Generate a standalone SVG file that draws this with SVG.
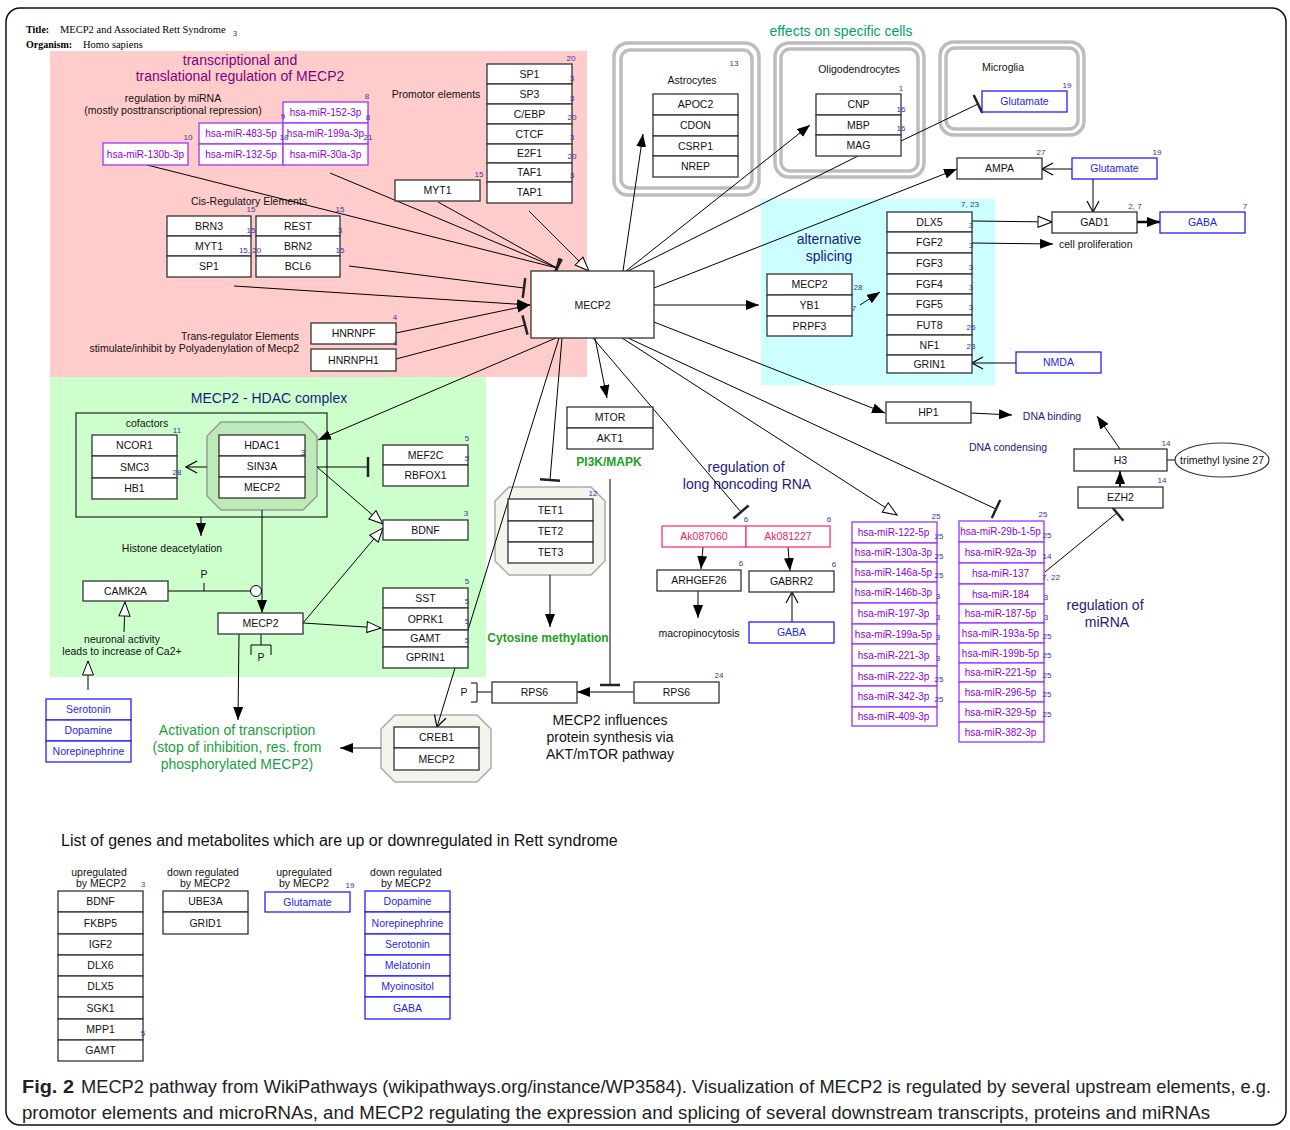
<svg xmlns="http://www.w3.org/2000/svg" width="1290" height="1130" viewBox="0 0 1290 1130">
<style>
text{font-family:"Liberation Sans",Arial,sans-serif}
.b{fill:#fff;stroke:#333;stroke-width:1.3}
.bb{fill:#fff;stroke:#1f1fff;stroke-width:1.3}
.pb{fill:#fff;stroke:#9a33ff;stroke-width:1.3}
.kb{fill:#fff;stroke:#ff3377;stroke-width:1.3}
.t{font-size:10.5px;text-anchor:middle;fill:#111}
.tb{font-size:10.5px;text-anchor:middle;fill:#1f1fee}
.tp{font-size:10px;text-anchor:middle;fill:#8f00dd}
.tk{font-size:10.5px;text-anchor:middle;fill:#ee2266}
.n{font-size:8px;text-anchor:middle;fill:#3333aa}
.h{font-size:14px;text-anchor:middle}
.nv{fill:#1a1a80}
.gr{fill:#19a040}
.s{font-size:10.5px;text-anchor:middle;fill:#111}
.c line,.c path,.c polyline{stroke:#000;stroke-width:1;fill:none}
.grp{fill:none;stroke:#bdbdbd;stroke-width:3.5}
</style>
<defs>
<marker id="arr" viewBox="0 0 13 10" refX="13" refY="5" markerWidth="13" markerHeight="10" markerUnits="userSpaceOnUse" orient="auto"><path d="M0,0 L13,5 L0,10 z" fill="#000"/></marker>
<marker id="tri" viewBox="-1 -1 16 13" refX="14" refY="5.5" markerWidth="16" markerHeight="13" markerUnits="userSpaceOnUse" orient="auto"><path d="M0,0 L14,5.5 L0,11 z" fill="#fff" stroke="#000" stroke-width="1"/></marker>
<marker id="bar" viewBox="-2 -11 4 22" refX="0" refY="0" markerWidth="4" markerHeight="22" markerUnits="userSpaceOnUse" orient="auto"><line x1="0" y1="-10" x2="0" y2="10" stroke="#222" stroke-width="2.5"/></marker>
<marker id="v" viewBox="-1 -1 13 14" refX="11" refY="6" markerWidth="13" markerHeight="14" markerUnits="userSpaceOnUse" orient="auto"><path d="M0,0 L11,6 L0,12" fill="none" stroke="#000" stroke-width="1.2"/></marker>
</defs>
<rect width="1290" height="1130" fill="#fff"/>
<rect x="6" y="8" width="1280" height="1117" rx="14" fill="none" stroke="#111" stroke-width="1.5"/>

<g id="title">
<text x="26" y="33" font-size="10" font-weight="bold" style="font-family:'Liberation Serif',serif">Title:</text>
<text x="60" y="33" font-size="10.5" style="font-family:'Liberation Serif',serif">MECP2 and Associated Rett Syndrome</text>
<text x="235" y="36" class="n">3</text>
<text x="26" y="48" font-size="10" font-weight="bold" style="font-family:'Liberation Serif',serif">Organism:</text>
<text x="83" y="48" font-size="10.5" style="font-family:'Liberation Serif',serif">Homo sapiens</text>
</g>

<g id="regions">
<rect x="50" y="51" width="537" height="326" fill="#ffcccc"/>
<rect x="50" y="377" width="436" height="300" fill="#ccffcc"/>
<rect x="761" y="199" width="234" height="186" fill="#ccffff"/>
<rect x="614" y="43" width="145" height="152" rx="14" class="grp"/>
<rect x="621" y="50" width="131" height="138" rx="9" class="grp"/>
<rect x="775" y="43" width="149" height="134" rx="14" class="grp"/>
<rect x="781" y="49" width="137" height="122" rx="9" class="grp"/>
<rect x="940" y="42" width="144" height="93" rx="14" class="grp"/>
<rect x="946" y="48" width="132" height="81" rx="9" class="grp"/>
<polygon points="221,422 303,422 317,436 317,496 303,510 221,510 207,496 207,436" fill="#bdebb8" stroke="#9a9a9a" stroke-width="1.5"/>
<polygon points="509,487 591,487 605,501 605,561 591,575 509,575 495,561 495,501" fill="#f4f4ec" stroke="#aaa" stroke-width="1.5"/>
<polygon points="395,715 477,715 491,729 491,768 477,782 395,782 381,768 381,729" fill="#f4f4ec" stroke="#aaa" stroke-width="1.5"/>
<rect x="76" y="413" width="251" height="104" fill="none" stroke="#333" stroke-width="1.3"/>
</g>

<g id="labels">
<text x="240" y="65" class="h" fill="#800080">transcriptional and</text>
<text x="240" y="81" class="h" fill="#800080">translational regulation of MECP2</text>
<text x="173" y="102" class="s">regulation by miRNA</text>
<text x="173" y="114" class="s">(mostly posttranscriptional repression)</text>
<text x="436" y="98" class="s">Promotor elements</text>
<text x="249" y="205" class="s">Cis-Regulatory Elements</text>
<text x="299" y="340" class="s" style="text-anchor:end">Trans-regulator Elements</text>
<text x="299" y="352" class="s" style="text-anchor:end">stimulate/inhibit by Polyadenylation of Mecp2</text>
<text x="841" y="36" class="h" fill="#00a070">effects on specific cells</text>
<text x="692" y="84" class="s">Astrocytes</text>
<text x="859" y="73" class="s">Oligodendrocytes</text>
<text x="1003" y="71" class="s">Microglia</text>
<text x="829" y="244" class="h nv">alternative</text>
<text x="829" y="261" class="h nv">splicing</text>
<text x="1059" y="248" class="s" style="text-anchor:start">cell proliferation</text>
<text x="269" y="403" class="h nv">MECP2 - HDAC complex</text>
<text x="147" y="427" class="s">cofactors</text>
<text x="172" y="552" class="s">Histone deacetylation</text>
<text x="122" y="643" class="s">neuronal activity</text>
<text x="122" y="655" class="s">leads to increase of Ca2+</text>
<text x="204" y="578" class="s">P</text>
<text x="261" y="661" class="s">P</text>
<text x="464" y="696" class="s">P</text>
<text x="237" y="735" class="h gr">Activation of transcription</text>
<text x="237" y="752" class="h gr">(stop of inhibition, res. from</text>
<text x="237" y="769" class="h gr">phosphorylated MECP2)</text>
<text x="609" y="466" font-size="12" font-weight="bold" text-anchor="middle" fill="#22a022">PI3K/MAPK</text>
<text x="548" y="642" font-size="12" font-weight="bold" text-anchor="middle" fill="#22a022">Cytosine methylation</text>
<text x="610" y="725" class="h" fill="#111">MECP2 influences</text>
<text x="610" y="742" class="h" fill="#111">protein synthesis via</text>
<text x="610" y="759" class="h" fill="#111">AKT/mTOR pathway</text>
<text x="746" y="472" class="h nv">regulation of</text>
<text x="747" y="489" class="h nv">long noncoding RNA</text>
<text x="699" y="637" class="s">macropinocytosis</text>
<text x="1052" y="420" font-size="10.5" text-anchor="middle" fill="#1a1a80">DNA binding</text>
<text x="1008" y="451" font-size="10.5" text-anchor="middle" fill="#1a1a80">DNA condensing</text>
<text x="1105" y="610" class="h nv">regulation of</text>
<text x="1107" y="627" class="h nv">miRNA</text>
<text x="61" y="846" font-size="16" fill="#111">List of genes and metabolites which are up or downregulated in Rett syndrome</text>
<text x="99" y="876" class="s">upregulated</text>
<text x="101" y="887" class="s">by MECP2</text>
<text x="203" y="876" class="s">down regulated</text>
<text x="205" y="887" class="s">by MECP2</text>
<text x="304" y="876" class="s">upregulated</text>
<text x="304" y="887" class="s">by MECP2</text>
<text x="406" y="876" class="s">down regulated</text>
<text x="406" y="887" class="s">by MECP2</text>
</g>

<g id="connectors" class="c">
<line x1="147" y1="165" x2="557" y2="268" marker-end="url(#bar)"/>
<line x1="330" y1="173" x2="557" y2="268" marker-end="url(#bar)"/>
<line x1="438" y1="202" x2="557" y2="268" marker-end="url(#bar)"/>
<line x1="529" y1="211" x2="589" y2="271" marker-end="url(#tri)"/>
<line x1="349" y1="266" x2="524" y2="288" marker-end="url(#bar)"/>
<line x1="234" y1="286" x2="530" y2="305" marker-end="url(#arr)"/>
<line x1="396" y1="333" x2="530" y2="305" marker-end="url(#arr)"/>
<line x1="396" y1="359" x2="525" y2="325" marker-end="url(#bar)"/>
<line x1="623" y1="271" x2="643" y2="134" marker-end="url(#arr)"/>
<line x1="626" y1="271" x2="810" y2="125" marker-end="url(#arr)"/>
<line x1="628" y1="271" x2="858" y2="156"/>
<line x1="901" y1="141" x2="978" y2="104" marker-end="url(#bar)"/>
<line x1="654" y1="288" x2="957" y2="169" marker-end="url(#arr)"/>
<line x1="654" y1="305" x2="759" y2="305" marker-end="url(#arr)"/>
<line x1="654" y1="322" x2="885" y2="413" marker-end="url(#arr)"/>
<line x1="628" y1="338" x2="996" y2="509" marker-end="url(#bar)"/>
<line x1="622" y1="338" x2="897" y2="515" marker-end="url(#tri)"/>
<line x1="593" y1="338" x2="741" y2="512" marker-end="url(#bar)"/>
<line x1="595" y1="338" x2="607" y2="398" marker-end="url(#arr)"/>
<line x1="562" y1="338" x2="550" y2="480" marker-end="url(#bar)"/>
<line x1="559" y1="338" x2="468" y2="630"/>
<line x1="556" y1="338" x2="318" y2="440" marker-end="url(#arr)"/>
<line x1="207" y1="467" x2="186" y2="467" marker-end="url(#v)"/>
<line x1="201" y1="517" x2="201" y2="536" marker-end="url(#arr)"/>
<line x1="317" y1="467" x2="368" y2="467" marker-end="url(#bar)"/>
<line x1="317" y1="467" x2="383" y2="524" marker-end="url(#tri)"/>
<line x1="303" y1="623" x2="383" y2="528" marker-end="url(#tri)"/>
<line x1="168" y1="591" x2="251" y2="591"/>
<line x1="204" y1="583" x2="204" y2="591"/>
<circle cx="256" cy="591" r="5.5" fill="#fff" stroke="#000" stroke-width="1"/>
<line x1="262" y1="510" x2="262" y2="613" marker-end="url(#arr)"/>
<line x1="261" y1="634" x2="261" y2="645"/>
<path d="M251,655 L251,645 L271,645 L271,655"/>
<line x1="303" y1="623" x2="381" y2="628" marker-end="url(#tri)"/>
<line x1="124" y1="632" x2="125" y2="602" marker-end="url(#tri)"/>
<line x1="88" y1="690" x2="88" y2="661" marker-end="url(#tri)"/>
<line x1="239" y1="634" x2="238" y2="720" marker-end="url(#arr)"/>
<line x1="381" y1="748" x2="340" y2="748" marker-end="url(#arr)"/>
<line x1="455" y1="668" x2="437" y2="727" marker-end="url(#v)"/>
<line x1="610" y1="479" x2="610" y2="685" marker-end="url(#bar)"/>
<line x1="634" y1="692" x2="577" y2="692" marker-end="url(#arr)"/>
<line x1="477" y1="692" x2="492" y2="692"/>
<path d="M471,683 L477,683 L477,702 L471,702"/>
<line x1="550" y1="575" x2="550" y2="627" marker-end="url(#arr)"/>
<line x1="703" y1="547" x2="701" y2="569" marker-end="url(#arr)"/>
<line x1="698" y1="591" x2="698" y2="618" marker-end="url(#arr)"/>
<line x1="788" y1="547" x2="790" y2="571" marker-end="url(#arr)"/>
<line x1="792" y1="622" x2="792" y2="592" marker-end="url(#v)"/>
<line x1="860" y1="305" x2="880" y2="292" marker-end="url(#arr)"/>
<line x1="972" y1="221" x2="1052" y2="222" marker-end="url(#tri)"/>
<line x1="972" y1="243" x2="1053" y2="244" marker-end="url(#arr)"/>
<line x1="1072" y1="169" x2="1042" y2="169" marker-end="url(#v)"/>
<line x1="1093" y1="179" x2="1093" y2="212" marker-end="url(#v)"/>
<line x1="1137" y1="222" x2="1160" y2="222" style="stroke-width:2.5" marker-end="url(#arr)"/>
<line x1="1016" y1="363" x2="972" y2="363" marker-end="url(#v)"/>
<line x1="971" y1="413" x2="1012" y2="415" marker-end="url(#arr)"/>
<line x1="1120" y1="449" x2="1097" y2="416" marker-end="url(#arr)"/>
<line x1="1120" y1="487" x2="1120" y2="471" style="stroke-width:2" marker-end="url(#arr)"/>
<line x1="1045" y1="572" x2="1117" y2="513" marker-end="url(#bar)"/>
<line x1="1167" y1="460" x2="1176" y2="460"/>
</g>

<g id="mecp2"><rect x="531" y="271" width="123" height="67" class="b"/><text x="592.5" y="308.5" class="t">MECP2</text></g>

<g id="promoters">
<rect x="487" y="64" width="85" height="20" class="b"/><text x="529.5" y="77.7" class="t">SP1</text>
<rect x="487" y="84" width="85" height="20" class="b"/><text x="529.5" y="97.7" class="t">SP3</text>
<rect x="487" y="104" width="85" height="20" class="b"/><text x="529.5" y="117.7" class="t">C/EBP</text>
<rect x="487" y="124" width="85" height="20" class="b"/><text x="529.5" y="137.7" class="t">CTCF</text>
<rect x="487" y="144" width="85" height="19" class="b"/><text x="529.5" y="157.2" class="t">E2F1</text>
<rect x="487" y="163" width="85" height="19" class="b"/><text x="529.5" y="176.2" class="t">TAF1</text>
<rect x="487" y="182" width="85" height="21" class="b"/><text x="529.5" y="196.2" class="t">TAP1</text>
<text x="571" y="61" class="n">20</text><text x="572" y="81" class="n">3</text><text x="572" y="101" class="n">3</text><text x="572" y="120" class="n">20</text><text x="572" y="140" class="n">3</text><text x="572" y="159" class="n">20</text><text x="572" y="178" class="n">3</text>
</g>
<g id="myt1"><rect x="395" y="180" width="85" height="21" class="b"/><text x="437.5" y="194.2" class="t">MYT1</text><text x="479" y="177" class="n">15</text></g>

<g id="cis">
<rect x="167" y="216" width="84" height="20" class="b"/><text x="209" y="229.7" class="t">BRN3</text>
<rect x="167" y="236" width="84" height="20" class="b"/><text x="209" y="249.7" class="t">MYT1</text>
<rect x="167" y="256" width="84" height="21" class="b"/><text x="209" y="270.2" class="t">SP1</text>
<rect x="256" y="216" width="84" height="20" class="b"/><text x="298" y="229.7" class="t">REST</text>
<rect x="256" y="236" width="84" height="20" class="b"/><text x="298" y="249.7" class="t">BRN2</text>
<rect x="256" y="256" width="84" height="21" class="b"/><text x="298" y="270.2" class="t">BCL6</text>
<text x="251" y="212" class="n">15</text><text x="340" y="212" class="n">15</text><text x="251" y="233" class="n">15</text><text x="340" y="233" class="n">3</text><text x="250" y="253" class="n">15, 20</text><text x="340" y="253" class="n">15</text>
</g>

<g id="mirna-up">
<rect x="283" y="102" width="85" height="21" class="pb"/><text x="325.5" y="116" class="tp">hsa-miR-152-3p</text>
<rect x="199" y="123" width="84" height="21" class="pb"/><text x="241" y="137" class="tp">hsa-miR-483-5p</text>
<rect x="283" y="123" width="85" height="21" class="pb"/><text x="325.5" y="137" class="tp">hsa-miR-199a-3p</text>
<rect x="199" y="144" width="84" height="21" class="pb"/><text x="241" y="158" class="tp">hsa-miR-132-5p</text>
<rect x="283" y="144" width="85" height="21" class="pb"/><text x="325.5" y="158" class="tp">hsa-miR-30a-3p</text>
<rect x="103" y="143" width="85" height="22" class="pb"/><text x="145.5" y="157.5" class="tp">hsa-miR-130b-3p</text>
<text x="367" y="99" class="n">8</text><text x="283" y="119" class="n">9</text><text x="368" y="120" class="n">8</text><text x="188" y="140" class="n">10</text><text x="284" y="140" class="n">18</text><text x="368" y="140" class="n">21</text>
</g>

<g id="hnrnp">
<rect x="311" y="323" width="85" height="21" class="b"/><text x="353.5" y="337.2" class="t">HNRNPF</text>
<rect x="311" y="349" width="85" height="22" class="b"/><text x="353.5" y="363.7" class="t">HNRNPH1</text>
<text x="395" y="320" class="n">4</text><text x="395" y="346" class="n">4</text>
</g>

<g id="astro">
<rect x="653" y="94" width="85" height="21" class="b"/><text x="695.5" y="108.2" class="t">APOC2</text>
<rect x="653" y="115" width="85" height="21" class="b"/><text x="695.5" y="129.2" class="t">CDON</text>
<rect x="653" y="136" width="85" height="20" class="b"/><text x="695.5" y="149.7" class="t">CSRP1</text>
<rect x="653" y="156" width="85" height="21" class="b"/><text x="695.5" y="170.2" class="t">NREP</text>
<text x="734" y="66" class="n">13</text>
</g>
<g id="oligo">
<rect x="816" y="94" width="85" height="21" class="b"/><text x="858.5" y="108.2" class="t">CNP</text>
<rect x="816" y="115" width="85" height="20" class="b"/><text x="858.5" y="128.7" class="t">MBP</text>
<rect x="816" y="135" width="85" height="21" class="b"/><text x="858.5" y="149.2" class="t">MAG</text>
<text x="901" y="91" class="n">1</text><text x="901" y="112" class="n">16</text><text x="901" y="131" class="n">16</text>
</g>
<g id="microglia"><rect x="982" y="91" width="85" height="21" class="bb"/><text x="1024.5" y="105.2" class="tb">Glutamate</text><text x="1067" y="88" class="n">19</text></g>
<g id="ampa"><rect x="957" y="158" width="85" height="21" class="b"/><text x="999.5" y="172.2" class="t">AMPA</text><text x="1041" y="155" class="n">27</text></g>
<g id="glutamate2"><rect x="1072" y="158" width="85" height="21" class="bb"/><text x="1114.5" y="172.2" class="tb">Glutamate</text><text x="1157" y="155" class="n">19</text></g>
<g id="gad1"><rect x="1052" y="212" width="85" height="21" class="b"/><text x="1094.5" y="226.2" class="t">GAD1</text><text x="1135" y="209" class="n">2, 7</text></g>
<g id="gaba1"><rect x="1160" y="212" width="85" height="21" class="bb"/><text x="1202.5" y="226.2" class="tb">GABA</text><text x="1245" y="209" class="n">7</text></g>

<g id="altsplice">
<rect x="767" y="274" width="85" height="21" class="b"/><text x="809.5" y="288.2" class="t">MECP2</text>
<rect x="767" y="295" width="85" height="21" class="b"/><text x="809.5" y="309.2" class="t">YB1</text>
<rect x="767" y="316" width="85" height="20" class="b"/><text x="809.5" y="329.7" class="t">PRPF3</text>
<text x="858" y="290" class="n">28</text><text x="854" y="311" class="n">7</text>
</g>
<g id="genes">
<rect x="887" y="212" width="85" height="20" class="b"/><text x="929.5" y="225.7" class="t">DLX5</text>
<rect x="887" y="232" width="85" height="21" class="b"/><text x="929.5" y="246.2" class="t">FGF2</text>
<rect x="887" y="253" width="85" height="21" class="b"/><text x="929.5" y="267.2" class="t">FGF3</text>
<rect x="887" y="274" width="85" height="20" class="b"/><text x="929.5" y="287.7" class="t">FGF4</text>
<rect x="887" y="294" width="85" height="21" class="b"/><text x="929.5" y="308.2" class="t">FGF5</text>
<rect x="887" y="315" width="85" height="20" class="b"/><text x="929.5" y="328.7" class="t">FUT8</text>
<rect x="887" y="335" width="85" height="20" class="b"/><text x="929.5" y="348.7" class="t">NF1</text>
<rect x="887" y="355" width="85" height="18" class="b"/><text x="929.5" y="367.7" class="t">GRIN1</text>
<text x="970" y="207" class="n">7, 23</text><text x="971" y="228" class="n">3</text><text x="971" y="248" class="n">3</text><text x="971" y="270" class="n">3</text><text x="971" y="290" class="n">3</text><text x="971" y="310" class="n">3</text><text x="971" y="330" class="n">26</text><text x="971" y="349" class="n">23</text>
</g>
<g id="nmda"><rect x="1016" y="352" width="85" height="21" class="bb"/><text x="1058.5" y="366.2" class="tb">NMDA</text></g>

<g id="hp1"><rect x="886" y="402" width="85" height="21" class="b"/><text x="928.5" y="416.2" class="t">HP1</text></g>
<g id="h3"><rect x="1074" y="449" width="93" height="22" class="b"/><text x="1120.5" y="463.7" class="t">H3</text><text x="1166" y="446" class="n">14</text></g>
<g id="trimethyl"><ellipse cx="1222" cy="460" rx="47" ry="17" fill="#fff" stroke="#333" stroke-width="1.2"/><text x="1222" y="463.7" class="t">trimethyl lysine 27</text></g>
<g id="ezh2"><rect x="1078" y="487" width="85" height="21" class="b"/><text x="1120.5" y="501.2" class="t">EZH2</text><text x="1162" y="483" class="n">14</text></g>

<g id="mtor">
<rect x="567" y="407" width="86" height="21" class="b"/><text x="610" y="421.2" class="t">MTOR</text>
<rect x="567" y="428" width="86" height="21" class="b"/><text x="610" y="442.2" class="t">AKT1</text>
</g>
<g id="tet">
<rect x="508" y="499" width="85" height="22" class="b"/><text x="550.5" y="513.7" class="t">TET1</text>
<rect x="508" y="521" width="85" height="21" class="b"/><text x="550.5" y="535.2" class="t">TET2</text>
<rect x="508" y="542" width="85" height="21" class="b"/><text x="550.5" y="556.2" class="t">TET3</text>
<text x="593" y="496" class="n">12</text>
</g>
<g id="lncrna">
<rect x="662" y="526" width="84" height="21" class="kb"/><text x="704" y="540.2" class="tk">Ak087060</text>
<rect x="746" y="526" width="84" height="21" class="kb"/><text x="788" y="540.2" class="tk">Ak081227</text>
<text x="746" y="522" class="n">6</text><text x="829" y="522" class="n">6</text>
</g>
<g id="arhgef26"><rect x="657" y="570" width="84" height="21" class="b"/><text x="699" y="584.2" class="t">ARHGEF26</text><text x="741" y="566" class="n">6</text></g>
<g id="gabrr2"><rect x="749" y="571" width="85" height="21" class="b"/><text x="791.5" y="585.2" class="t">GABRR2</text><text x="834" y="567" class="n">6</text></g>
<g id="gaba2"><rect x="749" y="622" width="85" height="21" class="bb"/><text x="791.5" y="636.2" class="tb">GABA</text></g>
<g id="rps6a"><rect x="492" y="682" width="85" height="21" class="b"/><text x="534.5" y="696.2" class="t">RPS6</text></g>
<g id="rps6b"><rect x="634" y="682" width="85" height="21" class="b"/><text x="676.5" y="696.2" class="t">RPS6</text><text x="719" y="678" class="n">24</text></g>

<g id="cofactors">
<rect x="92" y="435" width="85" height="21" class="b"/><text x="134.5" y="449.2" class="t">NCOR1</text>
<rect x="92" y="456" width="85" height="22" class="b"/><text x="134.5" y="470.7" class="t">SMC3</text>
<rect x="92" y="478" width="85" height="21" class="b"/><text x="134.5" y="492.2" class="t">HB1</text>
<text x="177" y="433" class="n">11</text><text x="177" y="475" class="n">28</text>
</g>
<g id="hdac">
<rect x="219" y="435" width="86" height="21" class="b"/><text x="262" y="449.2" class="t">HDAC1</text>
<rect x="219" y="456" width="86" height="21" class="b"/><text x="262" y="470.2" class="t">SIN3A</text>
<rect x="219" y="477" width="86" height="21" class="b"/><text x="262" y="491.2" class="t">MECP2</text>
<text x="303" y="455" class="n">3</text>
</g>
<g id="mef2c">
<rect x="383" y="445" width="85" height="20" class="b"/><text x="425.5" y="458.7" class="t">MEF2C</text>
<rect x="383" y="465" width="85" height="21" class="b"/><text x="425.5" y="479.2" class="t">RBFOX1</text>
<text x="467" y="441" class="n">5</text><text x="467" y="461" class="n">5</text>
</g>
<g id="bdnf"><rect x="383" y="520" width="85" height="20" class="b"/><text x="425.5" y="533.7" class="t">BDNF</text><text x="466" y="516" class="n">3</text></g>
<g id="camk2a"><rect x="83" y="581" width="85" height="20" class="b"/><text x="125.5" y="594.7" class="t">CAMK2A</text></g>
<g id="mecp2low"><rect x="218" y="613" width="85" height="21" class="b"/><text x="260.5" y="627.2" class="t">MECP2</text></g>
<g id="sst">
<rect x="383" y="588" width="85" height="20" class="b"/><text x="425.5" y="601.7" class="t">SST</text>
<rect x="383" y="608" width="85" height="22" class="b"/><text x="425.5" y="622.7" class="t">OPRK1</text>
<rect x="383" y="630" width="85" height="17" class="b"/><text x="425.5" y="642.2" class="t">GAMT</text>
<rect x="383" y="647" width="85" height="21" class="b"/><text x="425.5" y="661.2" class="t">GPRIN1</text>
<text x="467" y="584" class="n">5</text><text x="467" y="604" class="n">5</text><text x="467" y="624" class="n">5</text><text x="467" y="643" class="n">5</text>
</g>
<g id="monoamines">
<rect x="46" y="699" width="85" height="21" class="bb"/><text x="88.5" y="713.2" class="tb">Serotonin</text>
<rect x="46" y="720" width="85" height="21" class="bb"/><text x="88.5" y="734.2" class="tb">Dopamine</text>
<rect x="46" y="741" width="85" height="21" class="bb"/><text x="88.5" y="755.2" class="tb">Norepinephrine</text>
</g>
<g id="creb1">
<rect x="394" y="727" width="85" height="21" class="b"/><text x="436.5" y="741.2" class="t">CREB1</text>
<rect x="394" y="748" width="85" height="22" class="b"/><text x="436.5" y="762.7" class="t">MECP2</text>
</g>

<g id="mirlist1">
<rect x="852" y="522" width="85" height="21" class="pb"/><text x="893.5" y="536" class="tp">hsa-miR-122-5p</text>
<rect x="852" y="543" width="85" height="19" class="pb"/><text x="893.5" y="556" class="tp">hsa-miR-130a-3p</text>
<rect x="852" y="562" width="85" height="20" class="pb"/><text x="893.5" y="575.5" class="tp">hsa-miR-146a-5p</text>
<rect x="852" y="582" width="85" height="21" class="pb"/><text x="893.5" y="596" class="tp">hsa-miR-146b-3p</text>
<rect x="852" y="603" width="85" height="21" class="pb"/><text x="893.5" y="617" class="tp">hsa-miR-197-3p</text>
<rect x="852" y="624" width="85" height="20" class="pb"/><text x="893.5" y="637.5" class="tp">hsa-miR-199a-5p</text>
<rect x="852" y="644" width="85" height="22" class="pb"/><text x="893.5" y="658.5" class="tp">hsa-miR-221-3p</text>
<rect x="852" y="666" width="85" height="20" class="pb"/><text x="893.5" y="679.5" class="tp">hsa-miR-222-3p</text>
<rect x="852" y="686" width="85" height="21" class="pb"/><text x="893.5" y="700" class="tp">hsa-miR-342-3p</text>
<rect x="852" y="707" width="85" height="19" class="pb"/><text x="893.5" y="720" class="tp">hsa-miR-409-3p</text>
<text x="936" y="519" class="n">25</text>
<text x="939" y="539" class="n">25</text><text x="939" y="559" class="n">25</text><text x="939" y="578" class="n">25</text><text x="938" y="599" class="n">3</text><text x="938" y="620" class="n">3</text><text x="938" y="640" class="n">3</text><text x="938" y="661" class="n">3</text><text x="939" y="682" class="n">25</text><text x="939" y="702" class="n">25</text>
</g>
<g id="mirlist2">
<rect x="959" y="521" width="85" height="21" class="pb"/><text x="1000.5" y="535" class="tp">hsa-miR-29b-1-5p</text>
<rect x="959" y="542" width="85" height="21" class="pb"/><text x="1000.5" y="556" class="tp">hsa-miR-92a-3p</text>
<rect x="959" y="563" width="85" height="21" class="pb"/><text x="1000.5" y="577" class="tp">hsa-miR-137</text>
<rect x="959" y="584" width="85" height="20" class="pb"/><text x="1000.5" y="597.5" class="tp">hsa-miR-184</text>
<rect x="959" y="604" width="85" height="19" class="pb"/><text x="1000.5" y="617" class="tp">hsa-miR-187-5p</text>
<rect x="959" y="623" width="85" height="20" class="pb"/><text x="1000.5" y="636.5" class="tp">hsa-miR-193a-5p</text>
<rect x="959" y="643" width="85" height="20" class="pb"/><text x="1000.5" y="656.5" class="tp">hsa-miR-199b-5p</text>
<rect x="959" y="663" width="85" height="19" class="pb"/><text x="1000.5" y="676" class="tp">hsa-miR-221-5p</text>
<rect x="959" y="682" width="85" height="20" class="pb"/><text x="1000.5" y="695.5" class="tp">hsa-miR-296-5p</text>
<rect x="959" y="702" width="85" height="20" class="pb"/><text x="1000.5" y="715.5" class="tp">hsa-miR-329-5p</text>
<rect x="959" y="722" width="85" height="20" class="pb"/><text x="1000.5" y="735.5" class="tp">hsa-miR-382-3p</text>
<text x="1043" y="517" class="n">25</text>
<text x="1047" y="538" class="n">25</text><text x="1047" y="559" class="n">14</text><text x="1051" y="580" class="n">7, 22</text><text x="1046" y="600" class="n">3</text><text x="1046" y="620" class="n">3</text><text x="1047" y="639" class="n">25</text><text x="1047" y="658" class="n">25</text><text x="1047" y="678" class="n">25</text><text x="1047" y="697" class="n">25</text><text x="1047" y="717" class="n">25</text>
</g>

<g id="list-up">
<rect x="58" y="891" width="85" height="21" class="b"/><text x="100.5" y="905.2" class="t">BDNF</text>
<rect x="58" y="912" width="85" height="22" class="b"/><text x="100.5" y="926.7" class="t">FKBP5</text>
<rect x="58" y="934" width="85" height="21" class="b"/><text x="100.5" y="948.2" class="t">IGF2</text>
<rect x="58" y="955" width="85" height="21" class="b"/><text x="100.5" y="969.2" class="t">DLX6</text>
<rect x="58" y="976" width="85" height="21" class="b"/><text x="100.5" y="990.2" class="t">DLX5</text>
<rect x="58" y="997" width="85" height="22" class="b"/><text x="100.5" y="1011.7" class="t">SGK1</text>
<rect x="58" y="1019" width="85" height="21" class="b"/><text x="100.5" y="1033.2" class="t">MPP1</text>
<rect x="58" y="1040" width="85" height="21" class="b"/><text x="100.5" y="1054.2" class="t">GAMT</text>
<text x="143" y="887" class="n">3</text><text x="143" y="1036" class="n">5</text>
</g>
<g id="list-down">
<rect x="163" y="891" width="85" height="21" class="b"/><text x="205.5" y="905.2" class="t">UBE3A</text>
<rect x="163" y="912" width="85" height="22" class="b"/><text x="205.5" y="926.7" class="t">GRID1</text>
</g>
<g id="list-metab-up"><rect x="265" y="892" width="85" height="20" class="bb"/><text x="307.5" y="905.7" class="tb">Glutamate</text><text x="350" y="888" class="n">19</text></g>
<g id="list-metab-down">
<rect x="365" y="891" width="85" height="21" class="bb"/><text x="407.5" y="905.2" class="tb">Dopamine</text>
<rect x="365" y="912" width="85" height="22" class="bb"/><text x="407.5" y="926.7" class="tb">Norepinephrine</text>
<rect x="365" y="934" width="85" height="21" class="bb"/><text x="407.5" y="948.2" class="tb">Serotonin</text>
<rect x="365" y="955" width="85" height="21" class="bb"/><text x="407.5" y="969.2" class="tb">Melatonin</text>
<rect x="365" y="976" width="85" height="21" class="bb"/><text x="407.5" y="990.2" class="tb">Myoinositol</text>
<rect x="365" y="997" width="85" height="22" class="bb"/><text x="407.5" y="1011.7" class="tb">GABA</text>
</g>

<g id="caption">
<text x="22" y="1093" font-size="18.5" font-weight="bold" fill="#222" textLength="52" lengthAdjust="spacingAndGlyphs">Fig. 2</text>
<text x="81" y="1093" font-size="18.5" fill="#222" textLength="1190" lengthAdjust="spacingAndGlyphs">MECP2 pathway from WikiPathways (wikipathways.org/instance/WP3584). Visualization of MECP2 is regulated by several upstream elements, e.g.</text>
<text x="22" y="1119" font-size="18.5" fill="#222" textLength="1188" lengthAdjust="spacingAndGlyphs">promotor elements and microRNAs, and MECP2 regulating the expression and splicing of several downstream transcripts, proteins and miRNAs</text>
</g>
</svg>
